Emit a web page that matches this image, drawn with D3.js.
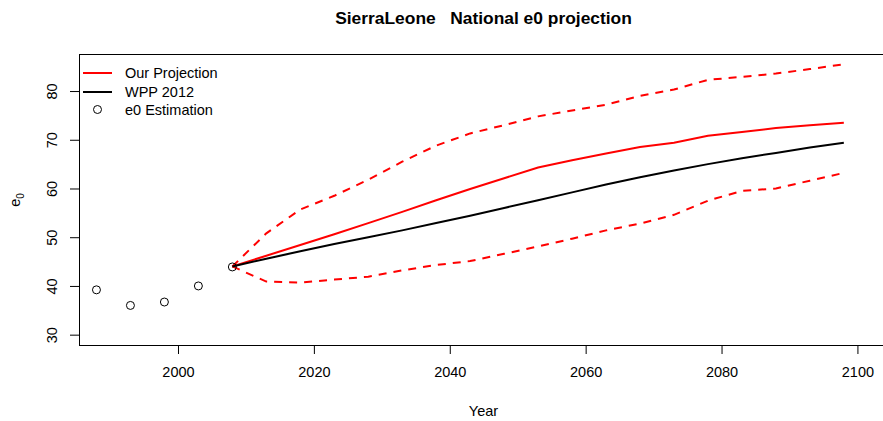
<!DOCTYPE html>
<html>
<head>
<meta charset="utf-8">
<script src="https://cdn.jsdelivr.net/npm/d3@7"></script>
<style>
  body { margin: 0; background: #fff; }
  text { font-family: "Liberation Sans", Arial, sans-serif; }
</style>
</head>
<body>
<div id="chart"></div>
<script>
var svgWidth = 883;
var svgHeight = 421;

// plot region (right side runs a little past the window, as in the original)
var margin = { top: 54, right: -5, bottom: 76, left: 79 };
var width = svgWidth - margin.left - margin.right;
var height = svgHeight - margin.top - margin.bottom;

// e0 estimates (past periods)
var estYears = [1988, 1993, 1998, 2003, 2008];
var estValues = [39.2, 36.0, 36.7, 40.0, 43.9];

// projection years
var projYears = [2008, 2013, 2018, 2023, 2028, 2033, 2038, 2043, 2048, 2053,
                 2058, 2063, 2068, 2073, 2078, 2083, 2088, 2093, 2098];
var ourMedian = [44.0, 46.2, 48.4, 50.6, 52.9, 55.2, 57.6, 59.9, 62.1, 64.3,
                 65.8, 67.2, 68.5, 69.4, 70.8, 71.6, 72.4, 73.0, 73.5];
var ourUpper = [44.0, 50.8, 55.7, 58.5, 61.8, 65.5, 68.8, 71.3, 73.0, 74.8,
                76.0, 77.2, 79.0, 80.3, 82.3, 82.9, 83.6, 84.5, 85.5];
var ourLower = [44.0, 40.9, 40.7, 41.3, 41.9, 43.2, 44.3, 45.1, 46.6, 48.1,
                49.7, 51.4, 52.8, 54.6, 57.5, 59.5, 60.0, 61.6, 63.2];
var wpp2012 = [44.0, 45.6, 47.1, 48.6, 50.0, 51.4, 52.9, 54.4, 56.0, 57.6,
               59.2, 60.8, 62.3, 63.7, 65.0, 66.2, 67.3, 68.4, 69.4];

var xTicks = [2000, 2020, 2040, 2060, 2080, 2100];
var yTicks = [30, 40, 50, 60, 70, 80];
var legendLabels = ["Our Projection", "WPP 2012", "e0 Estimation"];

var svg = d3.select("#chart")
  .append("svg")
  .attr("width", svgWidth)
  .attr("height", svgHeight);

var chartGroup = svg.append("g")
  .attr("transform", `translate(${margin.left}, ${margin.top})`);

var xScale = d3.scaleLinear()
  .domain([1985.43, 2104.5])
  .range([0, width]);

var yScale = d3.scaleLinear()
  .domain([27.88, 87.6])
  .range([height, 0]);

// axes
var xAxis = d3.axisBottom(xScale).tickValues(xTicks).tickFormat(d3.format("d"))
  .tickSize(9).tickPadding(13);
var yAxis = d3.axisLeft(yScale).tickValues(yTicks).tickSize(9);

var gx = chartGroup.append("g")
  .attr("transform", `translate(0, ${height})`)
  .call(xAxis);
gx.select(".domain").remove();
gx.selectAll("text").attr("font-size", "14.5px").attr("fill", "#000")
  .style("font-family", "'Liberation Sans', Arial, sans-serif");

var gy = chartGroup.append("g").call(yAxis);
gy.select(".domain").remove();
gy.selectAll("text")
  .attr("x", null).attr("dy", null)
  .attr("text-anchor", "middle")
  .attr("font-size", "14.5px").attr("fill", "#000")
  .style("font-family", "'Liberation Sans', Arial, sans-serif")
  .attr("transform", "translate(-22,0) rotate(-90)");

// box
chartGroup.append("rect")
  .attr("x", 0.5).attr("y", 0.5)
  .attr("width", width).attr("height", height)
  .attr("fill", "none").attr("stroke", "#000").attr("stroke-width", 1);

var line = d3.line()
  .x(d => xScale(d[0]))
  .y(d => yScale(d[1]));

function pairs(xs, ys) {
  return xs.map((x, i) => [x, ys[i]]);
}

chartGroup.append("path")
  .datum(pairs(projYears, ourUpper))
  .attr("d", line)
  .attr("fill", "none").attr("stroke", "#ff0000").attr("stroke-width", 2)
  .attr("stroke-dasharray", "8,7");

chartGroup.append("path")
  .datum(pairs(projYears, ourLower))
  .attr("d", line)
  .attr("fill", "none").attr("stroke", "#ff0000").attr("stroke-width", 2)
  .attr("stroke-dasharray", "8,7");

chartGroup.append("path")
  .datum(pairs(projYears, ourMedian))
  .attr("d", line)
  .attr("fill", "none").attr("stroke", "#ff0000").attr("stroke-width", 2);

chartGroup.append("path")
  .datum(pairs(projYears, wpp2012))
  .attr("d", line)
  .attr("fill", "none").attr("stroke", "#000").attr("stroke-width", 2);

chartGroup.selectAll(".estPoint")
  .data(pairs(estYears, estValues))
  .enter().append("circle")
  .attr("class", "estPoint")
  .attr("cx", d => xScale(d[0]))
  .attr("cy", d => yScale(d[1]))
  .attr("r", 4)
  .attr("fill", "none")
  .attr("stroke", "#000")
  .attr("stroke-width", 1);

// legend
var legend = chartGroup.append("g").attr("transform", "translate(0,0)");
var legendY = [19, 38, 55.5];
legend.append("line").attr("x1", 4).attr("x2", 33).attr("y1", legendY[0]).attr("y2", legendY[0])
  .attr("stroke", "#ff0000").attr("stroke-width", 2);
legend.append("line").attr("x1", 4).attr("x2", 33).attr("y1", legendY[1]).attr("y2", legendY[1])
  .attr("stroke", "#000").attr("stroke-width", 2);
legend.append("circle").attr("cx", 18.5).attr("cy", legendY[2]).attr("r", 4)
  .attr("fill", "none").attr("stroke", "#000");
legend.selectAll(".legText")
  .data(legendLabels)
  .enter().append("text")
  .attr("class", "legText")
  .attr("x", 46)
  .attr("y", (d, i) => legendY[i])
  .attr("dy", "0.35em")
  .attr("font-size", "14.5px")
  .text(d => d);

// titles
var plotCenter = margin.left + width / 2;
svg.append("text")
  .attr("x", plotCenter).attr("y", 24)
  .attr("text-anchor", "middle")
  .attr("font-size", "17.4px").attr("font-weight", "bold")
  .style("white-space", "pre")
  .text("SierraLeone   National e0 projection");

svg.append("text")
  .attr("x", plotCenter).attr("y", 416)
  .attr("text-anchor", "middle")
  .attr("font-size", "14.5px")
  .text("Year");

var ylab = svg.append("text")
  .attr("transform", "translate(20,200) rotate(-90)")
  .attr("text-anchor", "middle")
  .attr("font-size", "14.5px");
ylab.append("tspan").text("e");
ylab.append("tspan").attr("font-size", "10px").attr("dy", "4").text("0");
</script>
</body>
</html>
